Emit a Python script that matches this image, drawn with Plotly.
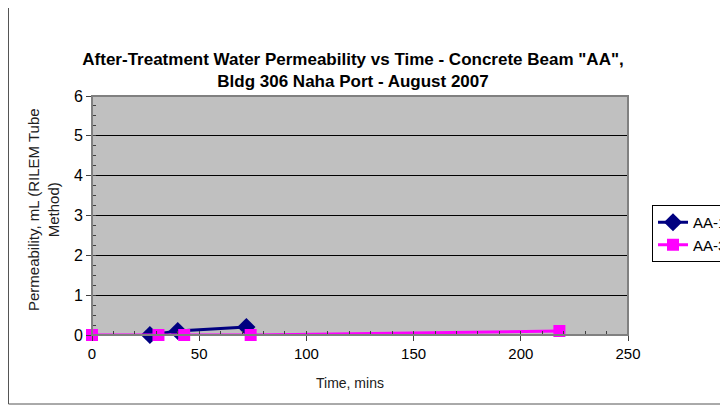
import plotly.graph_objects as go

aa1_time = [27, 40, 72]
aa1_perm = [0.0, 0.1, 0.2]
aa3_time = [0, 31, 43, 74, 218]
aa3_perm = [0.0, 0.0, 0.0, 0.0, 0.1]

title_text = 'After-Treatment Water Permeability vs Time - Concrete Beam "AA",<br>Bldg 306 Naha Port - August 2007'
x_title = "Time, mins"
y_title = "Permeability, mL (RILEM Tube<br>Method)"

# The page body has an 8px margin, so the figure is 720x401 and sits at (8, 8).
W, H = 720, 401
L, R, T, B = 84, 100, 88, 74
PW, PH = W - L - R, H - T - B


def px(xp):
    return (xp - L) / PW


def py(yp):
    return (H - B - yp) / PH


fig = go.Figure()
fig.add_trace(go.Scatter(
    x=aa1_time, y=aa1_perm, name="AA-1", mode="lines+markers", cliponaxis=False,
    line=dict(color="#000080", width=3),
    marker=dict(symbol="diamond", size=14, color="#000080"),
))
fig.add_trace(go.Scatter(
    x=aa3_time, y=aa3_perm, name="AA-3", mode="lines+markers", cliponaxis=False,
    line=dict(color="#FF00FF", width=3),
    marker=dict(symbol="square", size=12, color="#FF00FF"),
))

font = "Liberation Sans, Arial, sans-serif"
fig.update_layout(
    width=W, height=H,
    margin=dict(l=L, r=R, t=T, b=B, autoexpand=False),
    paper_bgcolor="white",
    plot_bgcolor="#C0C0C0",
    font=dict(family=font, color="black", size=15),
    title=dict(text="<b>" + title_text + "</b>", x=345 / W, xanchor="center",
               y=1 - 57 / H, yanchor="top", pad=dict(t=0, b=0),
               font=dict(family=font, size=17, color="black")),
    showlegend=True,
    legend=dict(x=px(644), xanchor="left", y=py(197), yanchor="top",
                bgcolor="white", bordercolor="black", borderwidth=1,
                font=dict(family=font, size=15, color="black"),
                tracegroupgap=0),
    xaxis=dict(range=[0, 250], dtick=50, tick0=0, showgrid=False, zeroline=False,
               showline=True, linecolor="#404040", linewidth=1,
               ticks="outside", ticklen=5, tickcolor="#404040",
               minor=dict(dtick=10, ticks="inside", ticklen=4, tickcolor="#404040", showgrid=False),
               tickfont=dict(size=15)),
    yaxis=dict(range=[0, 6], dtick=1, tick0=0, showgrid=True, gridcolor="black", gridwidth=1,
               zeroline=False, showline=True, linecolor="#404040", linewidth=1,
               ticks="outside", ticklen=5, tickcolor="#404040",
               minor=dict(dtick=0.25, ticks="inside", ticklen=4, tickcolor="#404040", showgrid=False),
               tickfont=dict(size=16)),
    annotations=[
        dict(text=x_title, xref="paper", yref="paper", x=px(342), y=py(375),
             xanchor="center", yanchor="middle", showarrow=False,
             font=dict(family=font, size=14, color="#202020")),
        dict(text=y_title, xref="paper", yref="paper", x=px(35), y=py(202),
             xanchor="center", yanchor="middle", showarrow=False, textangle=-90,
             font=dict(family=font, size=15, color="#202020")),
    ],
    shapes=[
        dict(type="rect", xref="paper", yref="paper", x0=0, x1=1, y0=0, y1=1,
             line=dict(color="#808080", width=2), fillcolor="rgba(0,0,0,0)"),
        dict(type="rect", xref="paper", yref="paper",
             x0=px(0.5), x1=px(760), y0=py(396), y1=py(-5),
             line=dict(color="#555555", width=1), fillcolor="rgba(0,0,0,0)", layer="below"),
    ],
)

fig.write_html("out.html")
